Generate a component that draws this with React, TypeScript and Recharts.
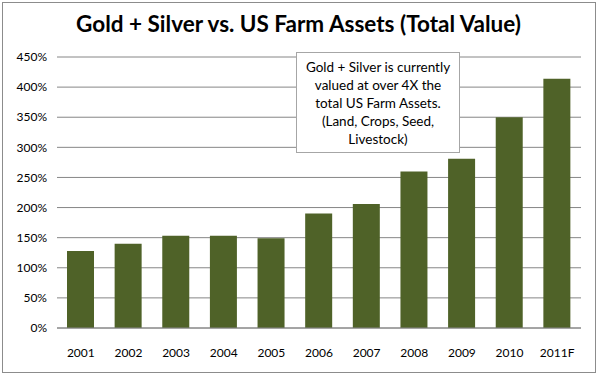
import React from 'react';
import { BarChart, Bar, XAxis, YAxis, CartesianGrid } from 'recharts';

const years = ['2001', '2002', '2003', '2004', '2005', '2006', '2007', '2008', '2009', '2010', '2011F'];
const ratios = [128, 140, 153, 153, 149, 190, 206, 260, 281, 350, 414];
const yTicks = [0, 50, 100, 150, 200, 250, 300, 350, 400, 450];

const data = years.map((year, i) => ({ year, value: ratios[i] }));

const FONT = 'Lato, "Open Sans", sans-serif';

const App: React.FC = () => {
  return (
    <div
      style={{
        position: 'absolute',
        left: 0,
        top: 0,
        width: 597,
        height: 374,
        background: '#fff',
        fontFamily: FONT,
      }}
    >
      <div
        style={{
          position: 'absolute',
          left: 2,
          top: 2,
          width: 592,
          height: 369,
          border: '1px solid #8c8c8c',
        }}
      />
      <div
        style={{
          position: 'absolute',
          left: 0,
          top: 10,
          width: 597,
          textAlign: 'center',
          fontSize: 22.5,
          fontWeight: 700,
          color: '#000',
        }}
      >
        Gold + Silver vs. US Farm Assets (Total Value)
      </div>
      <BarChart
        width={597}
        height={374}
        data={data}
        margin={{ top: 57, right: 16, bottom: 16, left: 7 }}
        barSize={27}
        style={{ position: 'absolute', left: 0, top: 0 }}
      >
        <CartesianGrid vertical={false} stroke="#868686" />
        <XAxis
          dataKey="year"
          height={30}
          tickLine={false}
          axisLine={{ stroke: '#868686' }}
          tick={{ fill: '#000', fontSize: 12, fontFamily: FONT }}
          tickMargin={14}
          interval={0}
        />
        <YAxis
          width={50}
          domain={[0, 450]}
          ticks={yTicks}
          tickFormatter={(v: number) => `${v}%`}
          tickLine={false}
          axisLine={false}
          tick={{ fill: '#000', fontSize: 12, fontFamily: FONT }}
          tickMargin={4}
        />
        <Bar dataKey="value" fill="#4F6228" isAnimationActive={false} />
      </BarChart>
      <div
        style={{
          position: 'absolute',
          left: 296,
          top: 52,
          width: 164,
          height: 101,
          boxSizing: 'border-box',
          border: '1px solid #a6a6a6',
          background: '#fff',
          textAlign: 'center',
          fontSize: 13.5,
          lineHeight: '18px',
          paddingTop: 5,
          color: '#000',
        }}
      >
        Gold + Silver is currently
        <br />
        valued at over 4X the
        <br />
        total US Farm Assets.
        <br />
        (Land, Crops, Seed,
        <br />
        Livestock)
      </div>
    </div>
  );
};

export default App;
